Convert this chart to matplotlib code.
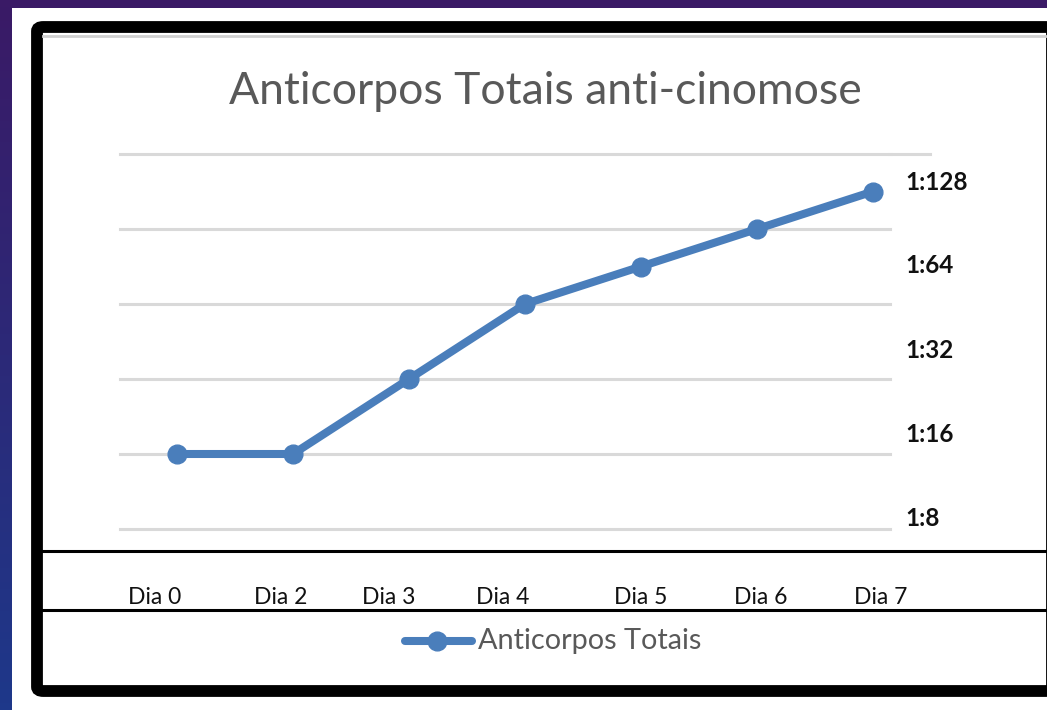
import matplotlib
matplotlib.use("Agg")
import matplotlib.pyplot as plt
import numpy as np
from matplotlib.patches import Rectangle, FancyBboxPatch
from matplotlib.lines import Line2D

# Data
days = ["Dia 0", "Dia 2", "Dia 3", "Dia 4", "Dia 5", "Dia 6", "Dia 7"]
level = [1, 1, 2, 3, 3.5, 4, 4.5]          # log-scale units (gridline steps)
titer_labels = ["1:128", "1:64", "1:32", "1:16", "1:8"]
series_name = "Anticorpos Totais"
title = "Anticorpos Totais anti-cinomose"

FONT = "Lato"
W, H = 1047, 710
fig = plt.figure(figsize=(W / 100, H / 100), dpi=100)

def fx(px):
    return px / W

def fy(py):
    return 1 - py / H

# Background gradient
bg = fig.add_axes([0, 0, 1, 1], zorder=-10)
bg.set_axis_off()
ny, nx = 100, 100
yy, xx = np.mgrid[0:1:ny * 1j, 0:1:nx * 1j]
t = np.clip(0.6 * yy + 0.4 * (1 - xx) * yy, 0, 1)
c_top = np.array([0x3a, 0x1a, 0x66]) / 255
c_bot = np.array([0x1e, 0x38, 0x8a]) / 255
img = c_top[None, None, :] * (1 - t[..., None]) + c_bot[None, None, :] * t[..., None]
bg.imshow(img, extent=[0, 1, 0, 1], aspect="auto", origin="upper")
bg.set_xlim(0, 1)
bg.set_ylim(0, 1)

# White sheet behind frame
fig.patches.append(Rectangle((fx(12), 0), 1 - fx(12), fy(8), transform=fig.transFigure,
                             facecolor="white", edgecolor="none", zorder=-5))
# Black frame
fig.patches.append(FancyBboxPatch((fx(37), fy(691)), fx(1052) - fx(37), fy(27) - fy(691),
                                  boxstyle="round,pad=0,rounding_size=0.006",
                                  transform=fig.transFigure, facecolor="white",
                                  edgecolor="black", linewidth=8.5, zorder=-4))
# Faint gray line under top border
fig.lines.append(Line2D([fx(43), 1], [fy(36), fy(36)], transform=fig.transFigure,
                        color="#d0d0d0", linewidth=2, zorder=-3))
# Black separator lines
for py in (551, 610):
    fig.lines.append(Line2D([fx(40), 1], [fy(py), fy(py)], transform=fig.transFigure,
                            color="black", linewidth=2.2, zorder=5))

# Main axes
left_px, right_px = 120, 890
top_px, bot_px = 154, 529
ax = fig.add_axes([fx(left_px), fy(bot_px), fx(right_px) - fx(left_px), fy(top_px) - fy(bot_px)])
ax.set_facecolor("none")
x = np.arange(len(days))
ppu = 116.0
ax.set_xlim(-(177 - left_px) / ppu, (right_px - 177) / ppu)
ax.set_ylim(0, 5)
ax.set_yticks(np.arange(0, 6))
ax.grid(axis="y", color="#d9d9d9", linewidth=2.2, clip_on=False)
ax.tick_params(left=False, bottom=False, labelleft=False, labelbottom=False)
for s in ax.spines.values():
    s.set_visible(False)
ax.set_axisbelow(True)

ln, = ax.plot(x, level, color="#4a7ebb", linewidth=5.8, marker="o", markersize=13.5,
              solid_capstyle="round", label=series_name, clip_on=False, zorder=3)

# Extended top gridline
fig.lines.append(Line2D([fx(890), fx(930)], [fy(154), fy(154)], transform=fig.transFigure,
                        color="#d9d9d9", linewidth=2.2))

# Title
fig.text(fx(545), fy(92), title, ha="center", va="center", fontsize=32,
         color="#595959", family=FONT)

# Right-side titer labels (pasted text)
label_y = [183, 266, 350, 434, 519]
for lab, py in zip(titer_labels, label_y):
    fig.text(fx(905), fy(py), lab, ha="left", va="center", fontsize=17.5,
             fontweight="bold", color="#111111", family=FONT)

# X labels (pasted text)
label_x = [155, 281, 389, 503, 641, 761, 881]
for lab, px in zip(days, label_x):
    fig.text(fx(px), fy(597), lab, ha="center", va="center", fontsize=16.5,
             color="#111111", family=FONT)

# Legend
fig.lines.append(Line2D([fx(405), fx(472)], [fy(641), fy(641)], transform=fig.transFigure,
                        color="#4a7ebb", linewidth=5.8, solid_capstyle="round"))
fig.lines.append(Line2D([fx(437)], [fy(641)], transform=fig.transFigure, color="#4a7ebb",
                        marker="o", markersize=13.5, linestyle="none"))
fig.text(fx(478), fy(641), series_name, ha="left", va="center", fontsize=20.8,
         color="#595959", family=FONT)

fig.savefig("out.png", dpi=100)
